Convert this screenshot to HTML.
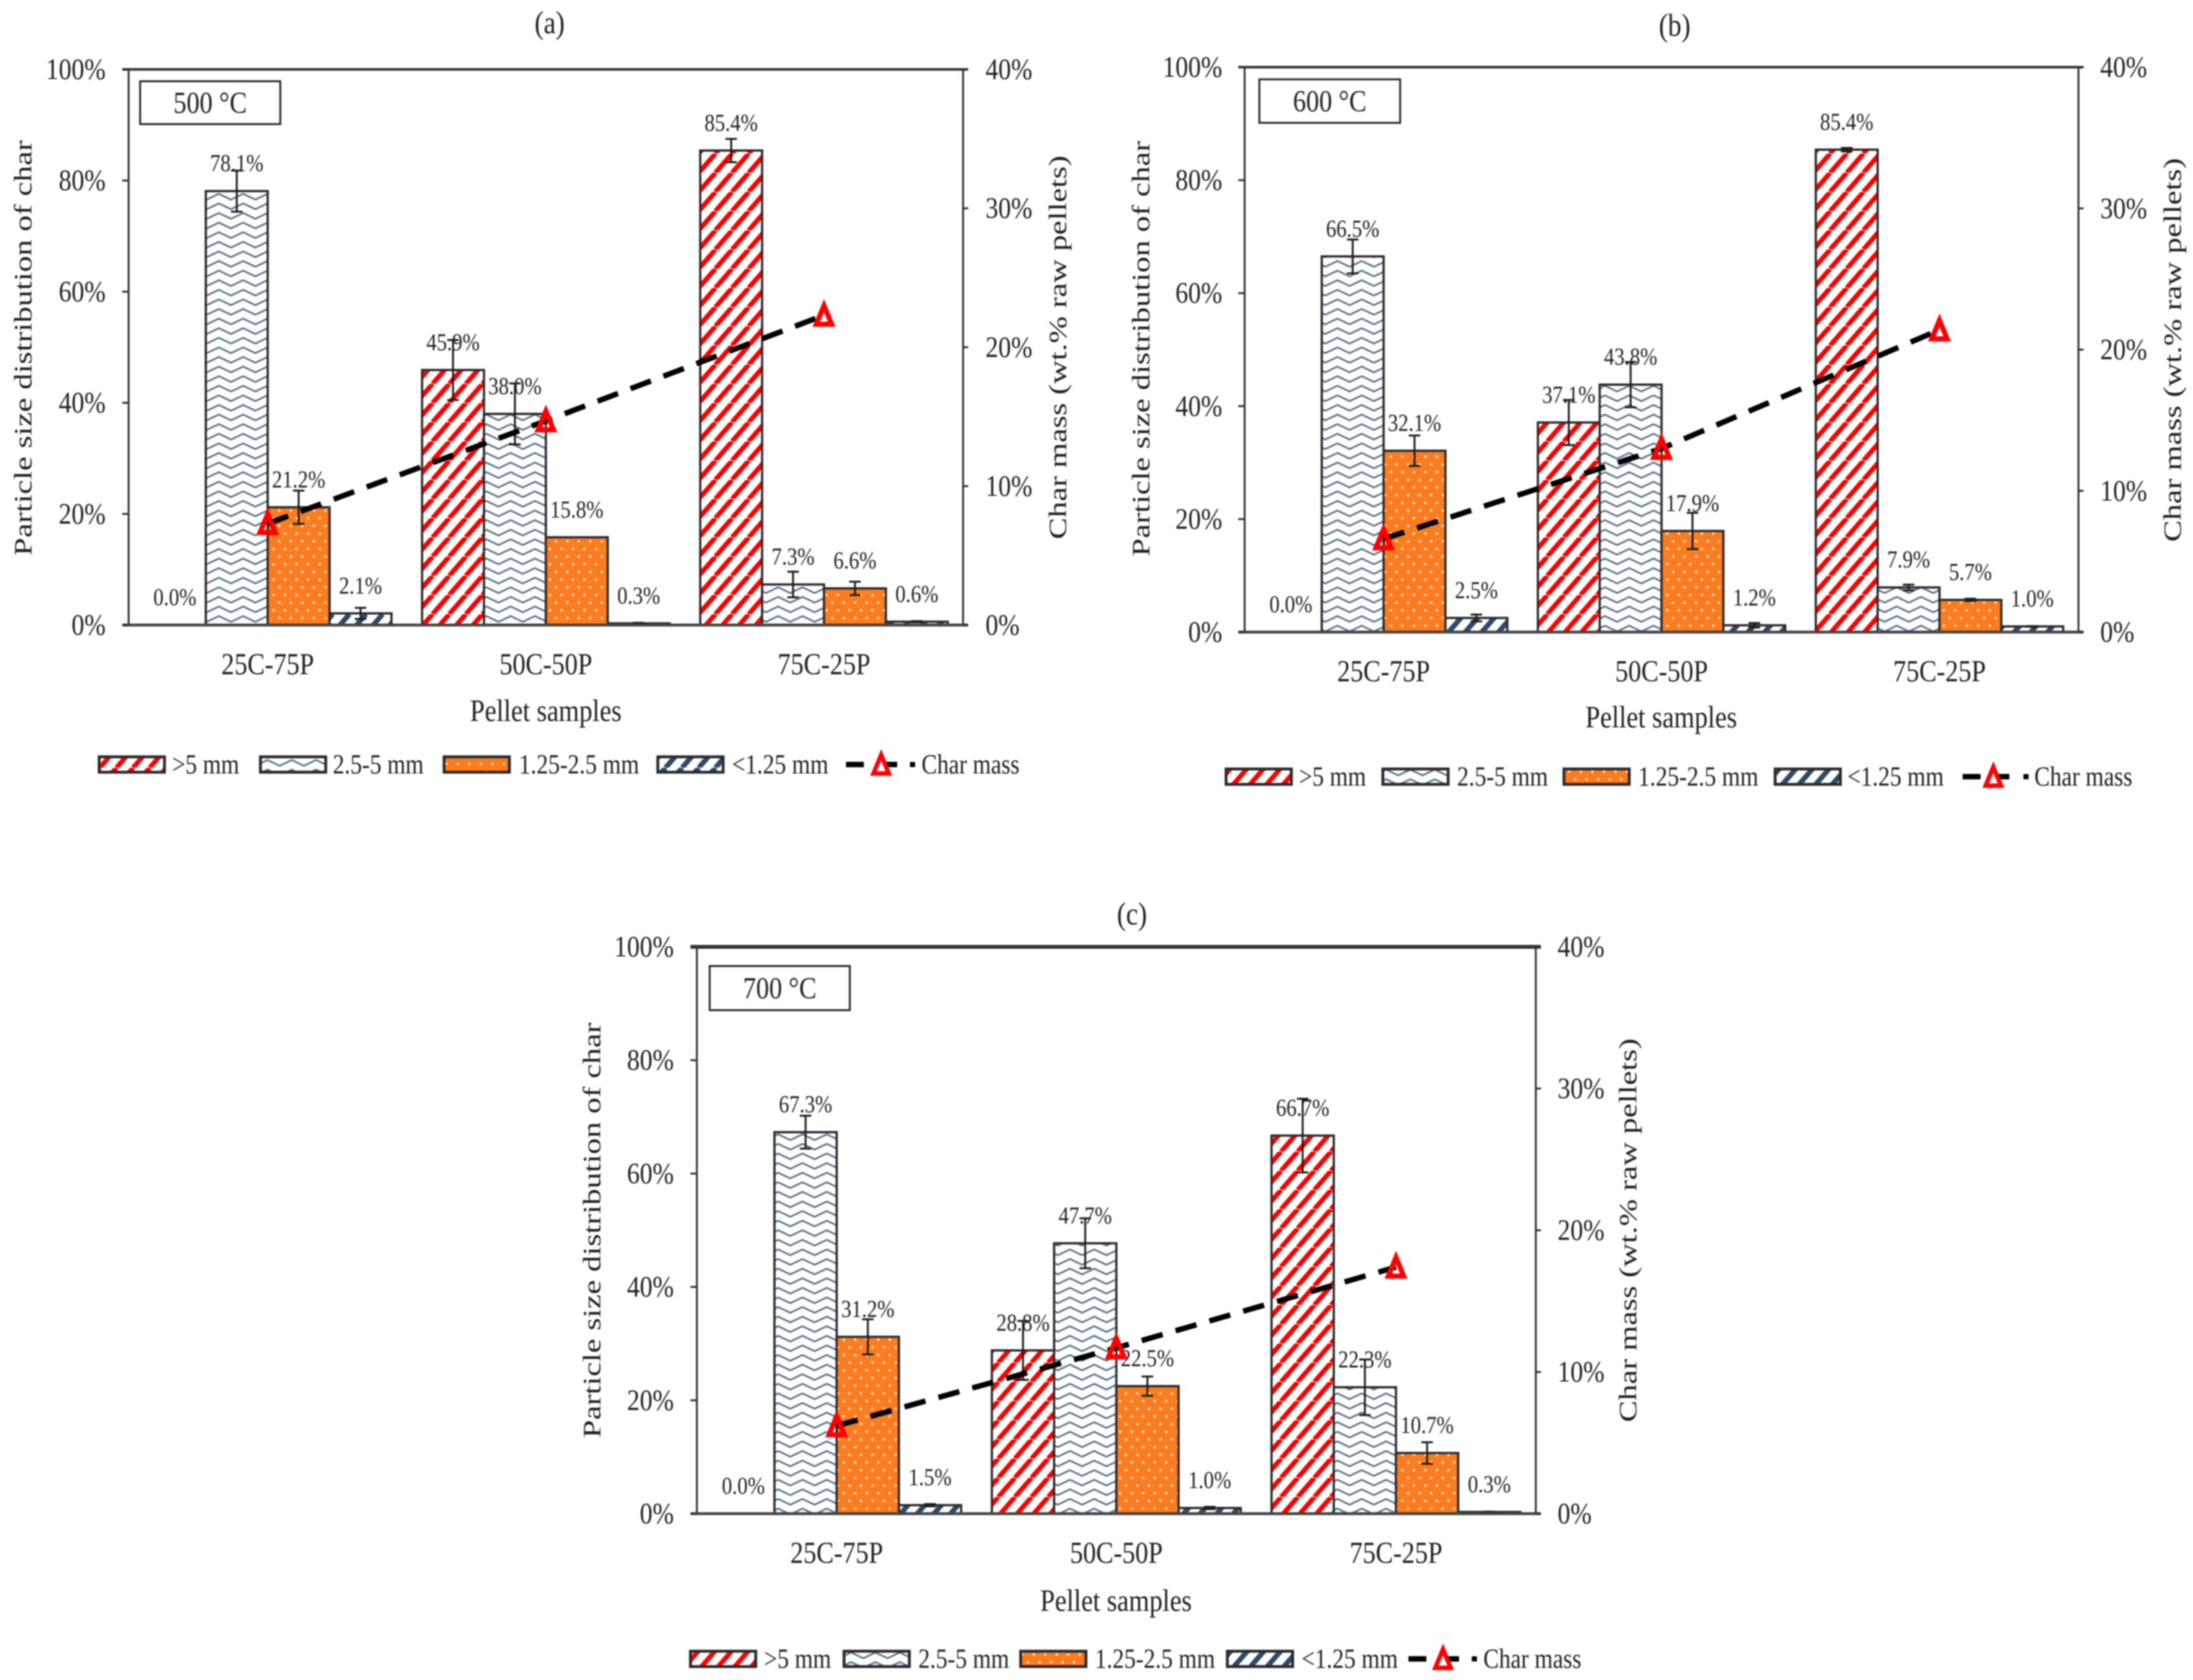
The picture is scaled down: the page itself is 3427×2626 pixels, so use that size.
<!DOCTYPE html>
<html lang="en">
<head>
<meta charset="utf-8">
<title>Particle size distribution of char</title>
<style>
html,body{margin:0;padding:0;background:#fff;}
body{width:3427px;height:2626px;overflow:hidden;}
#figure{display:block;filter:blur(1px);}
text{font-family:"Liberation Serif",serif;fill:#222;}
</style>
</head>
<body>
<svg id="figure" xmlns="http://www.w3.org/2000/svg" width="3427" height="2626" viewBox="0 0 3427 2626">
  <defs>
    <pattern id="p-red" patternUnits="userSpaceOnUse" width="26" height="30">
      <rect width="26" height="30" fill="#fff"/>
      <path d="M-26 30L0 0M0 30L26 0M26 30L52 0" stroke="#ff0000" stroke-width="7.5" fill="none"/>
    </pattern>
    <pattern id="p-wave" patternUnits="userSpaceOnUse" width="38" height="15">
      <rect width="38" height="15" fill="#fff"/>
      <path d="M-19 12L0 3L19 12L38 3L57 12" stroke="#5a7390" stroke-width="2.7" stroke-linejoin="round" fill="none"/>
    </pattern>
    <pattern id="p-dot" patternUnits="userSpaceOnUse" width="18" height="24">
      <rect width="18" height="24" fill="#fb7d20"/>
      <circle cx="4.5" cy="6" r="1.7" fill="#fff"/>
      <circle cx="13.5" cy="18" r="1.7" fill="#fff"/>
    </pattern>
    <pattern id="p-dark" patternUnits="userSpaceOnUse" width="26" height="30">
      <rect width="26" height="30" fill="#fff"/>
      <path d="M-26 30L0 0M0 30L26 0M26 30L52 0" stroke="#2f4a68" stroke-width="8" fill="none"/>
    </pattern>
  </defs>
</svg>
<script>
// ---- shared chart data ----
const categories = ['25C-75P', '50C-50P', '75C-25P'];
const seriesNames = ['>5 mm', '2.5-5 mm', '1.25-2.5 mm', '<1.25 mm'];
const lineName = 'Char mass';
const leftTicks = [0, 20, 40, 60, 80, 100];
const rightTicks = [0, 10, 20, 30, 40];

// ---- panel (a) 500 C ----
const aCoarse = [0, 45.9, 85.4];
const aMedium = [78.1, 38.0, 7.3];
const aFine = [21.2, 15.8, 6.6];
const aDust = [2.1, 0.3, 0.6];
const aCoarseErr = [0, 5.4, 2.1];
const aMediumErr = [3.7, 5.5, 2.3];
const aFineErr = [3.0, 0, 1.2];
const aDustErr = [1.0, 0.1, 0.1];
const aCharMass = [7.3, 14.7, 22.3];

// ---- panel (b) 600 C ----
const bCoarse = [0, 37.1, 85.4];
const bMedium = [66.5, 43.8, 7.9];
const bFine = [32.1, 17.9, 5.7];
const bDust = [2.5, 1.2, 1.0];
const bCoarseErr = [0, 4.0, 0.3];
const bMediumErr = [3.0, 4.0, 0.5];
const bFineErr = [2.7, 3.2, 0.2];
const bDustErr = [0.6, 0.4, 0.05];
const bCharMass = [6.6, 13.0, 21.4];

// ---- panel (c) 700 C ----
const cCoarse = [0, 28.8, 66.7];
const cMedium = [67.3, 47.7, 22.3];
const cFine = [31.2, 22.5, 10.7];
const cDust = [1.5, 1.0, 0.3];
const cCoarseErr = [0, 5.2, 6.5];
const cMediumErr = [2.9, 4.4, 4.9];
const cFineErr = [3.1, 1.7, 1.9];
const cDustErr = [0.2, 0.2, 0.05];
const cCharMass = [6.2, 11.7, 17.4];

const fills = ['url(#p-red)', 'url(#p-wave)', 'url(#p-dot)', 'url(#p-dark)'];
const SX = 0.85;
const NS = 'http://www.w3.org/2000/svg';
const root = document.getElementById('figure');

function mk(tag, parent, props) {
  const el = document.createElementNS(NS, tag);
  for (const k in props) el.setAttribute(k, props[k]);
  parent.appendChild(el);
  return el;
}
function txt(parent, str, x, y, size, anchor) {
  const el = mk('text', parent, {
    transform: 'translate(' + x + ' ' + y + ') scale(' + SX + ' 1)',
    'font-size': size,
    'text-anchor': anchor || 'middle'
  });
  el.textContent = str;
  return el;
}
function vtxt(parent, str, x, y, size) {
  const el = mk('text', parent, {
    transform: 'translate(' + x + ' ' + y + ') rotate(-90) scale(1.13 0.88)',
    'font-size': size,
    'text-anchor': 'middle'
  });
  el.textContent = str;
  return el;
}
function triPoints(x, y) {
  return x + ',' + (y - 15) + ' ' + (x + 12) + ',' + (y + 14) + ' ' + (x - 12) + ',' + (y + 14);
}

function drawPanel(p) {
  const g = mk('g', root, {});
  
  

  const yL = v => p.bottom - (v / 100) * (p.bottom - p.top);
  const yR = v => p.bottom - (v / 40) * (p.bottom - p.top);
  const band = (p.right - p.left) / categories.length;
  const barW = band * 0.89 / 4;
  const xCat = i => p.left + band * (i + 0.5);
  const xBar = (i, s) => xCat(i) + (s - 2) * barW;

  const title = txt(g, p.title, p.titleX, p.titleY, 50);
  
  

  // bars, error bars, value labels
  p.values.forEach((vals, s) => {
    vals.forEach((v, i) => {
      const bar = mk('rect', g, {
        x: xBar(i, s), y: yL(v), width: barW, height: Math.max(0, yL(0) - yL(v)),
        fill: fills[s], stroke: '#2a2a2a', 'stroke-width': 3.5
      });
      
      
    });
  });
  p.values.forEach((vals, s) => {
    vals.forEach((v, i) => {
      const e = p.errors[s][i];
      if (e > 0) {
        const cx = xBar(i, s) + barW / 2;
        const hi = yL(v + e), lo = yL(v - e);
        const err = mk('path', g, {
          d: 'M' + (cx - 9) + ' ' + hi + 'H' + (cx + 9) + 'M' + cx + ' ' + hi + 'V' + lo + 'M' + (cx - 9) + ' ' + lo + 'H' + (cx + 9),
          stroke: '#1c1c1c', 'stroke-width': 3, fill: 'none'
        });
        
        
      }
      const label = txt(g, v.toFixed(1) + '%', xBar(i, s) + barW / 2, yL(v) - 31, 38);
      
      
    });
  });

  // axes frame
  const frame = mk('path', g, {
    d: 'M' + p.left + ' ' + p.top + 'V' + p.bottom + 'M' + p.right + ' ' + p.top + 'V' + p.bottom,
    stroke: '#333', 'stroke-width': 3, fill: 'none'
  });
  
  
  const topLine = mk('line', g, { x1: p.left - 10, x2: p.right + 8, y1: p.top, y2: p.top, stroke: '#333', 'stroke-width': p.topWidth });
  
  
  const baseLine = mk('line', g, { x1: p.left - 10, x2: p.right + 8, y1: p.bottom, y2: p.bottom, stroke: '#444', 'stroke-width': 4.5 });
  
  

  leftTicks.forEach(t => {
    const tick = mk('line', g, { x1: p.left - 10, x2: p.left, y1: yL(t), y2: yL(t), stroke: '#333', 'stroke-width': 3 });
    
    
    const lab = txt(g, t + '%', p.leftLabelX, yL(t) + 15, 47, 'end');
    
    
  });
  rightTicks.forEach(t => {
    const tick = mk('line', g, { x1: p.right, x2: p.right + 8, y1: yR(t), y2: yR(t), stroke: '#333', 'stroke-width': 3 });
    
    
    const lab = txt(g, t + '%', p.rightLabelX, yR(t) + 15, 47, 'start');
    
    
  });
  categories.forEach((c, i) => {
    const lab = txt(g, c, xCat(i), p.catY, 48);
    
    
  });

  const xTitle = txt(g, 'Pellet samples', p.xTitleX, p.xTitleY, 48.5);
  
  
  const yTitle = vtxt(g, 'Particle size distribution of char', p.yTitleX, p.yTitleY, 45);
  
  
  const y2Title = vtxt(g, 'Char mass (wt.% raw pellets)', p.y2TitleX, p.y2TitleY, 45);
  
  

  // temperature box
  const box = mk('rect', g, { x: p.boxX, y: p.boxY, width: p.boxW, height: p.boxH, fill: '#fff', stroke: '#2a2a2a', 'stroke-width': 3 });
  
  
  const boxText = txt(g, p.temp, p.boxX + p.boxW / 2, p.boxY + p.boxH / 2 + 16, 48);
  
  

  // char mass line
  const linePts = p.charMass.map((v, i) => xCat(i) + ',' + yR(v)).join(' ');
  const massLine = mk('polyline', g, { points: linePts, fill: 'none', stroke: '#000', 'stroke-width': 8.5, 'stroke-dasharray': '34 21' });
  
  
  p.charMass.forEach((v, i) => {
    const tri = mk('polygon', g, { points: triPoints(xCat(i), yR(v)), fill: 'none', stroke: '#ff0000', 'stroke-width': 8 });
    
    
  });

  // legend
  const lg = mk('g', g, {});
  
  
  seriesNames.forEach((n, s) => {
    const sw = mk('rect', lg, { x: p.legendSwatch[s], y: p.legendY - 12, width: 102, height: 24, fill: fills[s], stroke: '#2a2a2a', 'stroke-width': 4.5 });
    
    
    const lt = txt(lg, n, p.legendText[s], p.legendY + 14, 43, 'start');
    
    
  });
  const dash = mk('line', lg, { x1: p.legendLine, x2: p.legendLine + 28, y1: p.legendY, y2: p.legendY, stroke: '#000', 'stroke-width': 8.5 });
  
  
  const dash2 = mk('line', lg, { x1: p.legendTri + 8, x2: p.legendTri + 25, y1: p.legendY, y2: p.legendY, stroke: '#000', 'stroke-width': 8.5 });
  
  
  const dot = mk('rect', lg, { x: p.legendDot - 4, y: p.legendY - 4, width: 8, height: 8, fill: '#000' });
  
  
  const lt2 = mk('polygon', lg, { points: triPoints(p.legendTri, p.legendY), fill: 'none', stroke: '#ff0000', 'stroke-width': 7 });
  
  
  const ln = txt(lg, lineName, p.legendLineText, p.legendY + 14, 43, 'start');
  
  
}

drawPanel({
  key: 'a', title: '(a)', temp: '500 °C',
  values: [aCoarse, aMedium, aFine, aDust],
  errors: [aCoarseErr, aMediumErr, aFineErr, aDustErr],
  charMass: aCharMass,
  left: 201, right: 1505, top: 108.5, bottom: 977, topWidth: 4,
  titleX: 859, titleY: 52, leftLabelX: 165, rightLabelX: 1540,
  catY: 1054, xTitleX: 853, xTitleY: 1127,
  yTitleX: 49, yTitleY: 544, y2TitleX: 1666, y2TitleY: 543,
  boxX: 219, boxY: 127, boxW: 219, boxH: 67,
  legendY: 1195, legendSwatch: [155, 407, 694, 1028], legendText: [269, 520, 811, 1144],
  legendLine: 1322, legendTri: 1377, legendDot: 1426, legendLineText: 1440
});
drawPanel({
  key: 'b', title: '(b)', temp: '600 °C',
  values: [bCoarse, bMedium, bFine, bDust],
  errors: [bCoarseErr, bMediumErr, bFineErr, bDustErr],
  charMass: bCharMass,
  left: 1945, right: 3248, top: 105, bottom: 988, topWidth: 4,
  titleX: 2617, titleY: 56, leftLabelX: 1910, rightLabelX: 3282,
  catY: 1065, xTitleX: 2596, xTitleY: 1137,
  yTitleX: 1796, yTitleY: 545, y2TitleX: 3408, y2TitleY: 547,
  boxX: 1968, boxY: 124, boxW: 220, boxH: 68,
  legendY: 1214, legendSwatch: [1916, 2161, 2444, 2774], legendText: [2030, 2277, 2560, 2887],
  legendLine: 3067, legendTri: 3115, legendDot: 3166, legendLineText: 3179
});
drawPanel({
  key: 'c', title: '(c)', temp: '700 °C',
  values: [cCoarse, cMedium, cFine, cDust],
  errors: [cCoarseErr, cMediumErr, cFineErr, cDustErr],
  charMass: cCharMass,
  left: 1089, right: 2400, top: 1480, bottom: 2366, topWidth: 6,
  titleX: 1769, titleY: 1445, leftLabelX: 1053, rightLabelX: 2434,
  catY: 2443, xTitleX: 1744, xTitleY: 2518,
  yTitleX: 938, yTitleY: 1923, y2TitleX: 2557, y2TitleY: 1923,
  boxX: 1109, boxY: 1510, boxW: 219, boxH: 69,
  legendY: 2593, legendSwatch: [1079, 1319, 1595, 1918], legendText: [1194, 1435, 1711, 2034],
  legendLine: 2201, legendTri: 2255, legendDot: 2304, legendLineText: 2318
});
</script>
</body>
</html>
